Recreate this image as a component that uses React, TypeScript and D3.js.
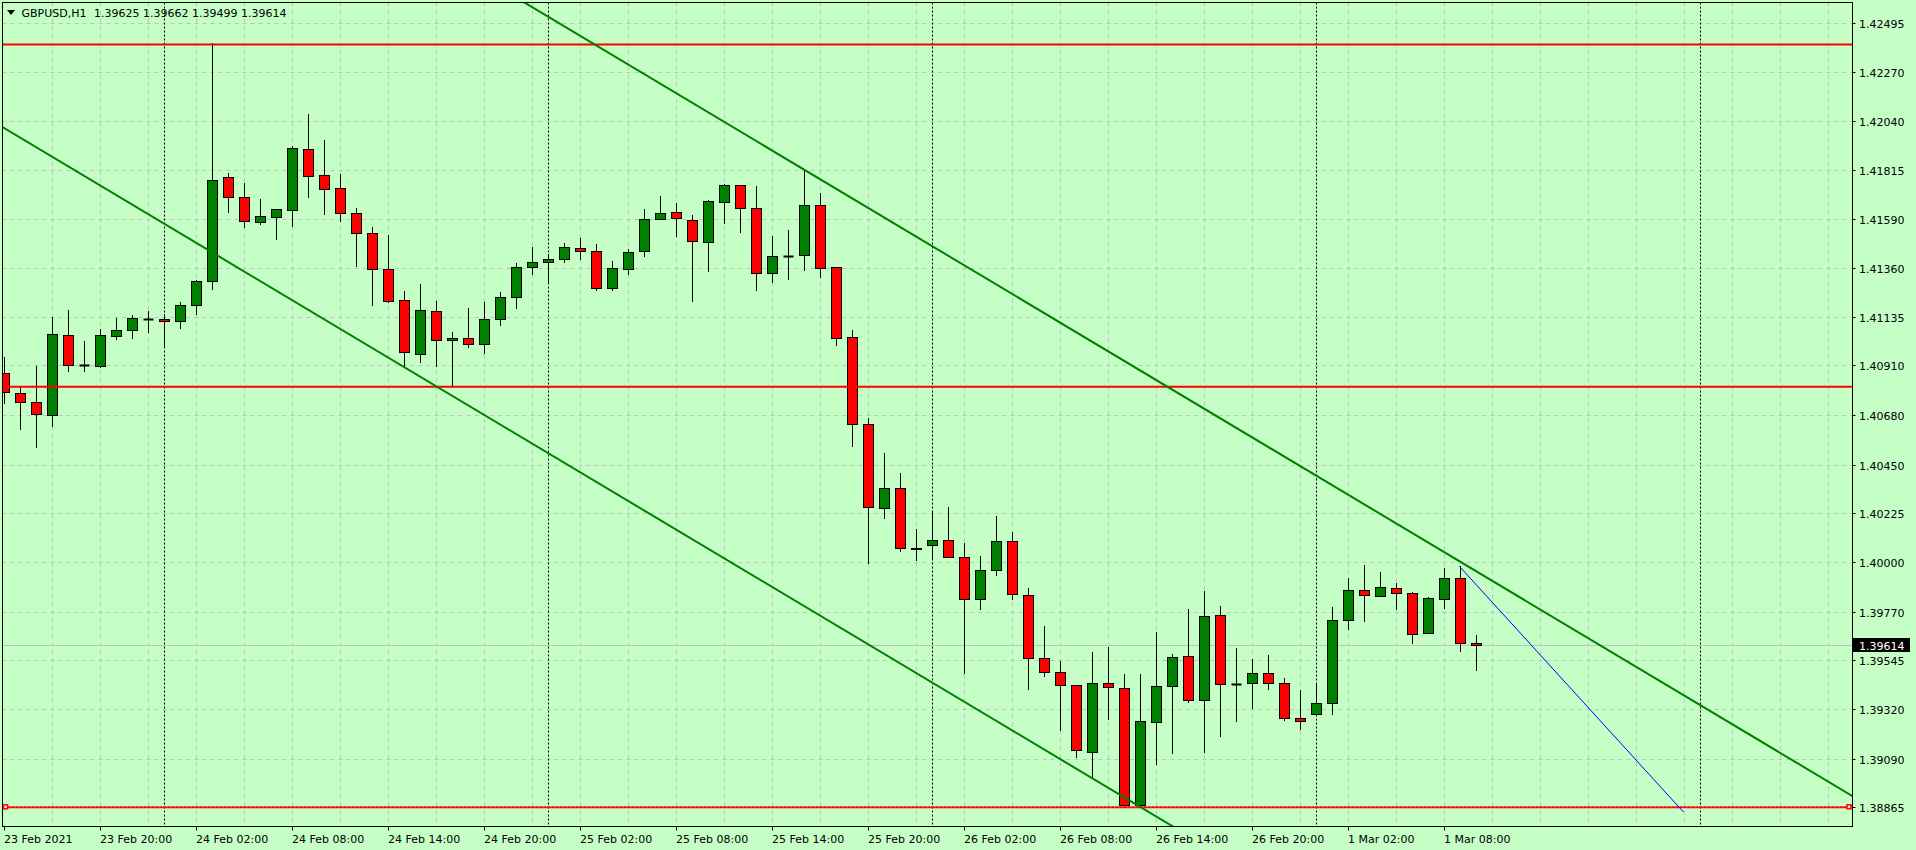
import React from 'react';
import * as d3 from 'd3';

// ---------- data ----------
const symbolTitle = 'GBPUSD,H1';
const lastBarValues = ['1.39625', '1.39662', '1.39499', '1.39614'];

// H1 bars from 23 Feb 2021 14:00
const opens = [
  1.40874, 1.40781, 1.40739, 1.40679, 1.41050, 1.40911, 1.40909, 1.41048, 1.41073, 1.41125,
  1.41124, 1.41114, 1.41188, 1.41300, 1.41781, 1.41688, 1.41575, 1.41599, 1.41631, 1.41910,
  1.41790, 1.41730, 1.41614, 1.41522, 1.41355, 1.41212, 1.40964, 1.41161, 1.41026, 1.41036,
  1.41008, 1.41124, 1.41225, 1.41364, 1.41387, 1.41401, 1.41452, 1.41438, 1.41267, 1.41355,
  1.41438, 1.41586, 1.41619, 1.41582, 1.41480, 1.41665, 1.41744, 1.41637, 1.41337, 1.41417,
  1.41420, 1.41651, 1.41364, 1.41040, 1.40638, 1.40249, 1.40341, 1.40064, 1.40078, 1.40101,
  1.40022, 1.39828, 1.39962, 1.40096, 1.39846, 1.39555, 1.39490, 1.39430, 1.39122, 1.39439,
  1.39416, 1.38874, 1.39258, 1.39425, 1.39564, 1.39360, 1.39754, 1.39437, 1.39439, 1.39485,
  1.39439, 1.39277, 1.39295, 1.39349, 1.39730, 1.39869, 1.39842, 1.39879, 1.39855, 1.39670,
  1.39828, 1.39925, 1.39625,
];
const highs = [
  1.40951, 1.40809, 1.40907, 1.41136, 1.41167, 1.41023, 1.41079, 1.41130, 1.41144, 1.41162,
  1.41147, 1.41202, 1.41306, 1.42404, 1.41799, 1.41756, 1.41680, 1.41634, 1.41927, 1.42074,
  1.41953, 1.41796, 1.41639, 1.41549, 1.41514, 1.41255, 1.41286, 1.41207, 1.41063, 1.41175,
  1.41202, 1.41250, 1.41384, 1.41458, 1.41424, 1.41477, 1.41500, 1.41472, 1.41393, 1.41449,
  1.41634, 1.41694, 1.41662, 1.41605, 1.41674, 1.41750, 1.41745, 1.41739, 1.41508, 1.41537,
  1.41815, 1.41708, 1.41364, 1.41074, 1.40667, 1.40503, 1.40411, 1.40152, 1.40230, 1.40254,
  1.40087, 1.40028, 1.40213, 1.40139, 1.39880, 1.39704, 1.39542, 1.39430, 1.39584, 1.39607,
  1.39482, 1.39482, 1.39676, 1.39575, 1.39783, 1.39866, 1.39797, 1.39602, 1.39551, 1.39570,
  1.39465, 1.39408, 1.39436, 1.39792, 1.39926, 1.39986, 1.39954, 1.39903, 1.39861, 1.39837,
  1.39973, 1.39980, 1.39662,
];
const lows = [
  1.40735, 1.40617, 1.40534, 1.40631, 1.40886, 1.40886, 1.40904, 1.41032, 1.41038, 1.41065,
  1.40997, 1.41085, 1.41148, 1.41265, 1.41620, 1.41552, 1.41565, 1.41495, 1.41555, 1.41691,
  1.41611, 1.41580, 1.41370, 1.41190, 1.41205, 1.40909, 1.40927, 1.40909, 1.40812, 1.40997,
  1.40966, 1.41099, 1.41177, 1.41335, 1.41293, 1.41390, 1.41404, 1.41261, 1.41261, 1.41335,
  1.41418, 1.41586, 1.41511, 1.41210, 1.41349, 1.41571, 1.41529, 1.41261, 1.41298, 1.41312,
  1.41353, 1.41321, 1.41006, 1.40539, 1.39994, 1.40205, 1.40053, 1.40010, 1.40020, 1.40025,
  1.39488, 1.39784, 1.39940, 1.39828, 1.39414, 1.39474, 1.39223, 1.39099, 1.39007, 1.39272,
  1.38865, 1.38865, 1.39067, 1.39118, 1.39351, 1.39120, 1.39196, 1.39266, 1.39326, 1.39414,
  1.39269, 1.39227, 1.39295, 1.39298, 1.39692, 1.39729, 1.39842, 1.39784, 1.39627, 1.39670,
  1.39789, 1.39587, 1.39499,
];
const closes = [
  1.40786, 1.40739, 1.40684, 1.41054, 1.40911, 1.40912, 1.41050, 1.41073, 1.41128, 1.41124,
  1.41114, 1.41190, 1.41300, 1.41767, 1.41691, 1.41580, 1.41600, 1.41633, 1.41915, 1.41788,
  1.41728, 1.41614, 1.41522, 1.41355, 1.41210, 1.40971, 1.41165, 1.41026, 1.41036, 1.41008,
  1.41124, 1.41225, 1.41364, 1.41387, 1.41401, 1.41457, 1.41438, 1.41267, 1.41360, 1.41434,
  1.41586, 1.41614, 1.41591, 1.41485, 1.41670, 1.41744, 1.41637, 1.41337, 1.41415, 1.41418,
  1.41651, 1.41360, 1.41038, 1.40638, 1.40254, 1.40341, 1.40064, 1.40062, 1.40101, 1.40025,
  1.39828, 1.39962, 1.40096, 1.39851, 1.39555, 1.39490, 1.39430, 1.39129, 1.39439, 1.39420,
  1.38874, 1.39263, 1.39425, 1.39559, 1.39360, 1.39749, 1.39434, 1.39436, 1.39485, 1.39439,
  1.39277, 1.39263, 1.39346, 1.39730, 1.39869, 1.39846, 1.39883, 1.39855, 1.39666, 1.39832,
  1.39925, 1.39624, 1.39614,
];

const priceTicks = [
  1.42495, 1.42270, 1.42040, 1.41815, 1.41590, 1.41360, 1.41135, 1.40910, 1.40680,
  1.40450, 1.40225, 1.40000, 1.39770, 1.39545, 1.39320, 1.39090, 1.38865,
];
const priceTickLabels = [
  '1.42495', '1.42270', '1.42040', '1.41815', '1.41590', '1.41360', '1.41135', '1.40910', '1.40680',
  '1.40450', '1.40225', '1.40000', '1.39770', '1.39545', '1.39320', '1.39090', '1.38865',
];

const timeLabelIdx = [0, 6, 12, 18, 24, 30, 36, 42, 48, 54, 60, 66, 72, 78, 84, 90];
const timeLabelText = [
  '23 Feb 2021', '23 Feb 20:00', '24 Feb 02:00', '24 Feb 08:00', '24 Feb 14:00', '24 Feb 20:00',
  '25 Feb 02:00', '25 Feb 08:00', '25 Feb 14:00', '25 Feb 20:00', '26 Feb 02:00', '26 Feb 08:00',
  '26 Feb 14:00', '26 Feb 20:00', '1 Mar 02:00', '1 Mar 08:00',
];
const daySeparatorIdx = [10, 34, 58, 82, 106];

const redLevels = [1.42395, 1.40812];
const supportLevel = 1.38865;
const currentPrice = 1.39614;
const currentPriceLabel = '1.39614';

// [barIndex, price]
const upperChannel: [number, number][] = [[50, 1.41818], [90, 1.40048]];
const lowerChannel: [number, number][] = [[10, 1.41568], [70, 1.38913]];
const blueSegment: [number, number][] = [[91, 1.39980], [105, 1.38843]];

// ---------- layout ----------
const W = 1916;
const H = 850;
const L = 2.5, R = 1852.5, T = 2.5, B = 826.5;
const BG = '#C6FFC6';
const GRID = '#C0C0C0';
const FONT = 'DejaVu Sans, Tahoma, sans-serif';

const x = d3.scaleLinear().domain([0, 1]).range([3.5, 19.5]);
const y = d3.scaleLinear().domain([1.38865, 1.42495]).range([807.3, 23]);
const px = (v: number) => Math.round(v) + 0.5;

function extend(pts: [number, number][], i0: number, i1: number) {
  const [[a, pa], [b, pb]] = pts;
  const k = (pb - pa) / (b - a);
  return [
    [x(i0), y(pa + k * (i0 - a))],
    [x(i1), y(pa + k * (i1 - a))],
  ] as [number, number][];
}

export default function App() {
  const line = d3.line<[number, number]>();
  const vGrid = d3.range(3, 116, 3).filter((i) => x(i) < R);
  const upper = extend(upperChannel, -5, 125);
  const lower = extend(lowerChannel, -5, 125);
  const blue = blueSegment.map(([i, p]) => [x(i), y(p)] as [number, number]);

  return (
    <svg width={W} height={H} style={{ position: 'absolute', left: 0, top: 0, background: BG }}
      fontFamily={FONT} fontSize={11}>
      <defs>
        <clipPath id="plot"><rect x={L + 0.5} y={T + 0.5} width={R - L - 1} height={B - T - 1} /></clipPath>
      </defs>
      <rect x={0} y={0} width={W} height={H} fill={BG} />

      <g clipPath="url(#plot)">
        {/* grid */}
        {priceTicks.map((p, k) => (
          <line key={'hg' + k} x1={L} x2={R} y1={px(y(p))} y2={px(y(p))} stroke={GRID} strokeDasharray="4,4" />
        ))}
        {vGrid.map((i) => (
          <line key={'vg' + i} x1={px(x(i))} x2={px(x(i))} y1={T} y2={B} stroke={GRID} strokeDasharray="4,4" />
        ))}
        {daySeparatorIdx.map((i) => (
          <line key={'ds' + i} x1={px(x(i))} x2={px(x(i))} y1={T} y2={B} stroke="#000" strokeDasharray="2,2" />
        ))}
        {/* current price line */}
        <line x1={L} x2={R} y1={px(y(currentPrice))} y2={px(y(currentPrice))} stroke="#C0C0C0" />

        {/* candles */}
        {opens.map((o, i) => {
          const c = closes[i];
          const cx = Math.round(x(i)) + 0.5;
          const yt = Math.round(y(Math.max(o, c)));
          const yb = Math.round(y(Math.min(o, c)));
          const fill = c > o ? '#008000' : c < o ? '#FF0000' : 'none';
          return (
            <g key={'c' + i}>
              <line x1={cx} x2={cx} y1={Math.round(y(highs[i]))} y2={Math.round(y(lows[i])) + 1} stroke="#000" />
              {yb - yt >= 1 ? (
                <rect x={cx - 5} y={yt + 0.5} width={10} height={yb - yt} fill={fill} stroke="#000" />
              ) : (
                <line x1={cx - 5} x2={cx + 5} y1={yt + 0.5} y2={yt + 0.5} stroke="#000" strokeWidth={2} />
              )}
            </g>
          );
        })}

        {/* horizontal levels */}
        {redLevels.map((p, k) => (
          <line key={'rl' + k} x1={L} x2={R} y1={y(p)} y2={y(p)} stroke="#FF0000" strokeWidth={2} />
        ))}
        <line x1={L} x2={R} y1={y(supportLevel)} y2={y(supportLevel)} stroke="#FF0000" strokeWidth={2} />
        <line x1={L} x2={R} y1={y(supportLevel) - 0.5} y2={y(supportLevel) - 0.5} stroke="#FFB0B0" strokeWidth={1} strokeDasharray="1,3" />
        <rect x={L + 1} y={y(supportLevel) - 2.5} width={4} height={4} fill="#FFE0E0" stroke="#FF0000" strokeWidth={1.5} />
        <rect x={R - 5.5} y={y(supportLevel) - 2.5} width={4} height={4} fill="#FFE0E0" stroke="#FF0000" strokeWidth={1.5} />

        {/* trend lines */}
        <path d={line(upper) || ''} stroke="#008000" strokeWidth={2} fill="none" />
        <path d={line(lower) || ''} stroke="#008000" strokeWidth={2} fill="none" />
        <path d={line(blue) || ''} stroke="#0000FF" strokeWidth={1} fill="none" />
      </g>

      {/* frame */}
      <rect x={L} y={T} width={R - L} height={B - T} fill="none" stroke="#000" />

      {/* title */}
      <polygon points="7,10 15,10 11,15" fill="#000" />
      <text x={21.5} y={17} fill="#000">{symbolTitle}</text>
      <text x={94} y={17} fill="#000">{lastBarValues.join(' ')}</text>

      {/* price axis */}
      {priceTicks.map((p, k) => (
        <g key={'pt' + k}>
          <line x1={R} x2={R + 3} y1={px(y(p))} y2={px(y(p))} stroke="#000" />
          <text x={1859} y={Math.round(y(p)) + 4.5} fill="#000">{priceTickLabels[k]}</text>
        </g>
      ))}
      <rect x={1853} y={Math.round(y(currentPrice)) - 7} width={57} height={14} fill="#000" />
      <text x={1859} y={Math.round(y(currentPrice)) + 4.5} fill="#FFF">{currentPriceLabel}</text>

      {/* time axis */}
      {timeLabelIdx.map((i, k) => (
        <g key={'tl' + k}>
          <line x1={px(x(i))} x2={px(x(i))} y1={B} y2={B + 4} stroke="#000" />
          <text x={Math.round(x(i))} y={843} fill="#000">{timeLabelText[k]}</text>
        </g>
      ))}
    </svg>
  );
}
